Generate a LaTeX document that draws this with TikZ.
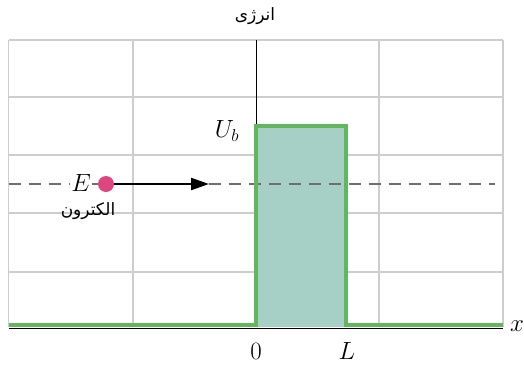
\documentclass[tikz,border=0pt]{standalone}
\usepackage{fontspec}
\TeXXeTstate=1
\newfontfamily\arabicfont[Script=Arabic]{DejaVu Sans}
\usetikzlibrary{arrows.meta}
\definecolor{gridgray}{RGB}{205,205,205}
\definecolor{barriergreen}{RGB}{98,182,92}
\definecolor{barrierfill}{RGB}{166,207,198}
\definecolor{dotpink}{RGB}{222,70,128}
\definecolor{dashgray}{RGB}{110,110,110}
\tikzset{
  gridline/.style={draw=gridgray, line width=1.2pt},
  greenline/.style={draw=barriergreen, line width=4.5pt},
  mathlbl/.style={font=\fontsize{26}{27}\selectfont, inner sep=0pt},
  arlbl/.style={font=\arabicfont\fontsize{17}{18}\selectfont, inner sep=0pt},
}
\begin{document}
\begin{tikzpicture}[x=1pt,y=-1pt]
\useasboundingbox (0,0) rectangle (524,364);
% grid
\foreach \yy in {40,97,155,213,272} \draw[gridline] (8.5,\yy) -- (503,\yy);
\foreach \xx in {8.5,133,379,503} \draw[gridline] (\xx,40) -- (\xx,327);
% barrier fill
\fill[barrierfill] (256,126) rectangle (346,327);
% dashed energy line
\draw[dashgray, line width=1.3pt, dash pattern=on 12pt off 8pt] (8.5,184) -- (495,184);
% axis
\draw[black, line width=1.8pt] (8.5,328.5) -- (503,328.5);
% green potential
\draw[greenline, line join=miter] (8.5,325) -- (256,325) -- (256,126) -- (346,126) -- (346,325) -- (503,325);
% energy axis
\coordinate (etop) at (256,40);
\coordinate (ebot) at (256,124);
\draw[black, line width=0.9pt] (etop) -- (ebot);
% electron
\node[circle, fill=dotpink, minimum size=16pt, inner sep=0pt] (dot) at (106,184) {};
\coordinate (arrend) at (209,184);
\draw[black, line width=2.2pt, -{Triangle[length=18pt,width=12pt]}] (dot.east) -- (arrend);
% labels
\node[arlbl] (energy) at (255,16) {\beginR انرژی\endR};
\node[arlbl] (electron) at (88,211) {\beginR الکترون\endR};
\node[mathlbl, fill=white, inner xsep=1.5pt] (E) at (81,183) {$E$};
\node[mathlbl] (Ub) at (227,131) {$U_b$};
\node[mathlbl] (zero) at (256,351) {$0$};
\node[mathlbl] (L) at (347,351) {$L$};
\node[mathlbl] (x) at (517,326) {$x$};
\end{tikzpicture}
\end{document}
